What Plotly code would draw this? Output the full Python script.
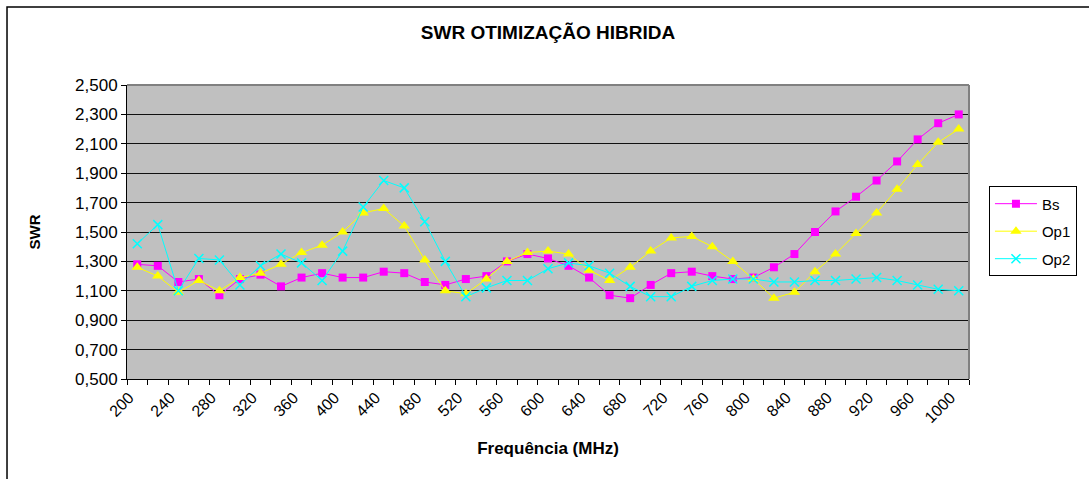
import plotly.graph_objects as go

# Frequencies (MHz) and SWR readings for each configuration
freqs = list(range(200, 1001, 20))

bs = [1.28, 1.27, 1.16, 1.18, 1.07, 1.18, 1.21, 1.13, 1.19, 1.22,
      1.19, 1.19, 1.23, 1.22, 1.16, 1.14, 1.18, 1.20, 1.30, 1.35,
      1.32, 1.27, 1.19, 1.07, 1.05, 1.14, 1.22, 1.23, 1.20, 1.18,
      1.19, 1.26, 1.35, 1.50, 1.64, 1.74, 1.85, 1.98, 2.13, 2.24, 2.30]

op1 = [1.26, 1.20, 1.09, 1.17, 1.10, 1.19, 1.22, 1.28, 1.36, 1.41,
       1.50, 1.63, 1.66, 1.54, 1.31, 1.10, 1.08, 1.18, 1.30, 1.36,
       1.37, 1.35, 1.24, 1.17, 1.26, 1.37, 1.46, 1.47, 1.40, 1.30,
       1.18, 1.05, 1.09, 1.23, 1.35, 1.49, 1.63, 1.79, 1.96, 2.11, 2.20]

op2 = [1.42, 1.55, 1.10, 1.32, 1.31, 1.14, 1.27, 1.35, 1.29, 1.17,
       1.37, 1.67, 1.85, 1.80, 1.57, 1.30, 1.06, 1.12, 1.17, 1.17,
       1.25, 1.29, 1.27, 1.22, 1.13, 1.06, 1.06, 1.13, 1.17, 1.18,
       1.18, 1.16, 1.16, 1.17, 1.17, 1.18, 1.19, 1.17, 1.14, 1.11, 1.10]

FONT = "Liberation Sans, Arial, sans-serif"

fig = go.Figure()

fig.add_trace(go.Scatter(
    x=freqs, y=bs, name="Bs", mode="lines+markers", legendgroup="bs",
    line=dict(color="#FF00FF", width=1),
    marker=dict(symbol="square", size=8, color="#FF00FF"),
))
fig.add_trace(go.Scatter(
    x=freqs, y=op1, name="Op1", mode="lines+markers", legendgroup="op1",
    line=dict(color="#FFFF00", width=1),
    marker=dict(symbol="triangle-up", size=10, color="#FFFF00"),
))
fig.add_trace(go.Scatter(
    x=freqs, y=op2, name="Op2", mode="lines+markers", legendgroup="op2",
    line=dict(color="#00FFFF", width=1),
    marker=dict(symbol="x-thin", size=9, color="#00FFFF",
                line=dict(color="#00FFFF", width=1.5)),
))

# Outer chart frame and the grey top/right edges of the plot area
fig.add_shape(type="rect", xref="paper", yref="paper",
              x0=-0.1425, x1=1.3, y0=-0.5, y1=1.265,
              line=dict(color="black", width=1.5))
fig.add_shape(type="line", xref="paper", yref="paper",
              x0=0, x1=1, y0=1, y1=1, line=dict(color="#808080", width=2))
fig.add_shape(type="line", xref="paper", yref="paper",
              x0=1, x1=1, y0=0, y1=1, line=dict(color="#808080", width=2))

fig.update_layout(
    width=1089, height=479,
    margin=dict(l=127, r=120, t=85, b=100),
    paper_bgcolor="white",
    plot_bgcolor="#C0C0C0",
    separators=",.",
    font=dict(family=FONT, color="black", size=16),
    title=dict(text="<b>SWR OTIMIZAÇÃO HIBRIDA</b>", x=0.5, xref="paper",
               y=0.933, yanchor="middle", font=dict(size=19)),
    showlegend=True,
    legend=dict(x=1.0237, xanchor="left", y=0.655, yanchor="top",
                bordercolor="black", borderwidth=1, bgcolor="white",
                font=dict(size=15), itemwidth=42, tracegroupgap=5),
)

fig.update_xaxes(
    range=[190, 1010], tickmode="array", tickvals=freqs[::2],
    tickangle=-45, ticks="", ticklabelshift=-8, ticklabelstandoff=2,
    tickfont=dict(size=16),
    showgrid=False, zeroline=False,
    showline=True, linecolor="black", linewidth=1,
    minor=dict(ticks="outside", dtick=20, tick0=190, ticklen=5,
               tickcolor="black", showgrid=False),
    title=dict(text="<b>Frequência (MHz)</b>", font=dict(size=17), standoff=16),
    automargin=False,
)
fig.update_yaxes(
    range=[0.5, 2.5], dtick=0.2, tick0=0.5, tickformat=".3f",
    ticks="outside", ticklen=5, tickcolor="black",
    tickfont=dict(size=17),
    showgrid=True, gridcolor="#101010", gridwidth=1, zeroline=False,
    showline=True, linecolor="black", linewidth=1,
    title=dict(text="<b>SWR</b>", font=dict(size=15), standoff=30),
    automargin=False,
)

fig.write_html("out.html", config={"displayModeBar": False},
               post_script="document.body.style.margin='0';")
